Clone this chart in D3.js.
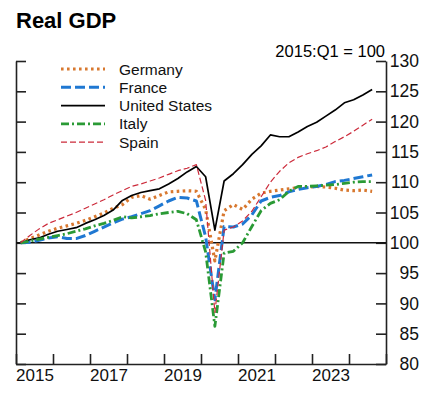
<!DOCTYPE html>
<html>
<head>
<meta charset="utf-8">
<script src="https://cdn.jsdelivr.net/npm/d3@7"></script>
<style>
  body { margin: 0; background: #fff; }
  svg { display: block; font-family: "Liberation Sans", Arial, sans-serif; }
</style>
</head>
<body>
<div id="chart"></div>
<script>
// quarterly index, 2015:Q1 = 100, runs 2015:Q1 .. 2024:Q3
const quarters = d3.range(2015, 2025).flatMap(y => [1, 2, 3, 4].map(q => `${y}:Q${q}`)).slice(0, 39);

const germany = [100, 100.7, 101.3, 101.9, 102.4, 102.8, 103.2, 103.7, 104.3, 104.9,
  105.7, 106.3, 107.5, 107.8, 107.2, 107.8, 108.4, 108.5, 108.6, 108.5,
  105.5, 97, 105.3, 106.3, 105.5, 107.2, 108.2, 108.5, 108.7, 108.9,
  109.1, 109.2, 109.3, 109.2, 109, 108.7, 108.6, 108.7, 108.5];
const france = [100, 100.1, 100.4, 100.8, 101, 100.7, 100.7, 101.2, 101.9, 102.6,
  103.3, 103.9, 104.3, 104.8, 105.3, 106.1, 106.9, 107.5, 107.4, 106.9,
  101, 90.6, 102.7, 102.6, 103.1, 104.6, 106.9, 107.5, 107.8, 108.4,
  108.8, 109.1, 109.3, 109.6, 110.1, 110.3, 110.6, 110.9, 111.2];
const unitedStates = [100, 100.5, 100.8, 101.4, 101.9, 102.2, 102.5, 103.2, 103.8, 104.5,
  105.4, 107, 107.8, 108.3, 108.6, 108.9, 109.7, 110.6, 111.7, 112.6,
  110.9, 102.1, 110.2, 111.4, 112.9, 114.6, 116, 117.8, 117.5, 117.5,
  118.3, 119.2, 119.9, 120.9, 121.9, 123.1, 123.6, 124.4, 125.3];
const italy = [100, 100.3, 100.6, 100.9, 101.2, 101.5, 101.9, 102.3, 102.8, 103.2,
  103.7, 104.3, 104.1, 104.3, 104.5, 104.8, 105, 105.2, 104.8, 103.8,
  98.5, 86.2, 98.3, 98.6, 100, 102.7, 105.3, 106.5, 107.1, 108.5,
  109.3, 109.3, 109.4, 109.5, 109.6, 109.8, 110, 110.1, 110.1];
const spain = [100, 101.2, 102.3, 103.2, 103.8, 104.4, 105, 105.7, 106.4, 107.1,
  107.9, 108.6, 109.3, 109.7, 110.2, 110.7, 111.3, 111.9, 112.3, 112.9,
  107, 88.5, 102.1, 102.6, 103.6, 105.2, 107.6, 110, 111.8, 113.2,
  114.1, 114.7, 115.2, 115.8, 116.7, 117.5, 118.4, 119.4, 120.4];

const yearTicks = d3.range(2015, 2026);
const yearLabels = [2015, 2017, 2019, 2021, 2023];
const yTicks = [80, 85, 90, 95, 100, 105, 110, 115, 120, 125, 130];

const series = [
  { name: "Germany", values: germany, color: "#d8782f", width: 3.2, dash: "2.6 3.4" },
  { name: "France", values: france, color: "#1f78d2", width: 3, dash: "10 4" },
  { name: "United States", values: unitedStates, color: "#000", width: 1.7, dash: null },
  { name: "Italy", values: italy, color: "#2a9a35", width: 2.8, dash: "8 3 2 3" },
  { name: "Spain", values: spain, color: "#cc2a3a", width: 1.2, dash: "6 3" }
];

const W = 431, H = 394;
const plotLeft = 16, plotRight = 386, plotTop = 61, plotBottom = 364;

const svg = d3.select("#chart").append("svg")
  .attr("width", W)
  .attr("height", H);

const x = d3.scaleLinear().domain([2015, 2025]).range([plotLeft, plotRight]);
const y = d3.scaleLinear().domain([80, 130]).range([plotBottom, plotTop]);

// quarter i sits in the middle of its quarter
const qx = i => x(2015 + (i + 0.5) / 4);

// title
svg.append("text")
  .attr("x", 16).attr("y", 28)
  .attr("font-size", 22).attr("font-weight", "bold")
  .text("Real GDP");

svg.append("text")
  .attr("x", 385).attr("y", 57)
  .attr("text-anchor", "end")
  .attr("font-size", 16.5)
  .text("2015:Q1 = 100");

// axes
function styleAxis(g) {
  g.select(".domain").attr("stroke", "#222").attr("stroke-width", 1.6);
  g.selectAll(".tick line").attr("stroke", "#222").attr("stroke-width", 1.6);
}

svg.append("g")
  .attr("transform", `translate(0,${plotBottom})`)
  .call(d3.axisBottom(x).tickValues(yearTicks).tickSizeInner(-10).tickSizeOuter(0).tickFormat(""))
  .call(styleAxis);

svg.append("g")
  .attr("transform", `translate(0,${plotBottom})`)
  .call(d3.axisBottom(x).tickValues(yearLabels.map(d => d + 0.5)).tickSize(0).tickFormat(d => Math.floor(d)))
  .call(g => g.select(".domain").remove())
  .call(g => g.selectAll("text")
    .attr("y", 17).attr("dy", 0)
    .attr("font-size", 17).attr("fill", "#111")
    .attr("font-family", "Liberation Sans, Arial, sans-serif"));

svg.append("g")
  .attr("transform", `translate(${plotLeft},0)`)
  .call(d3.axisLeft(y).tickValues(yTicks).tickSizeInner(-10).tickSizeOuter(0).tickFormat(""))
  .call(styleAxis);

svg.append("g")
  .attr("transform", `translate(${plotRight},0)`)
  .call(d3.axisRight(y).tickValues(yTicks).tickSizeInner(-10).tickSizeOuter(0))
  .call(styleAxis)
  .call(g => g.selectAll("text")
    .attr("x", 33).attr("text-anchor", "end")
    .attr("font-size", 17.5).attr("fill", "#111")
    .attr("font-family", "Liberation Sans, Arial, sans-serif"));

// 100 reference line
svg.append("line")
  .attr("x1", plotLeft).attr("x2", plotRight)
  .attr("y1", y(100)).attr("y2", y(100))
  .attr("stroke", "#111").attr("stroke-width", 1.5);

const line = d3.line()
  .x((d, i) => qx(i))
  .y(d => y(d));

svg.selectAll(".series")
  .data(series)
  .join("path")
  .attr("class", "series")
  .attr("fill", "none")
  .attr("stroke", d => d.color)
  .attr("stroke-width", d => d.width)
  .attr("stroke-dasharray", d => d.dash)
  .attr("stroke-linejoin", "round")
  .attr("d", d => line(d.values));

// legend
const legend = svg.selectAll(".legend")
  .data(series)
  .join("g")
  .attr("class", "legend")
  .attr("transform", (d, i) => `translate(61,${69 + i * 18.3})`);

legend.append("line")
  .attr("x1", 0).attr("x2", 44)
  .attr("stroke", d => d.color)
  .attr("stroke-width", d => d.width)
  .attr("stroke-dasharray", d => d.dash);

legend.append("text")
  .attr("x", 58).attr("y", 5.5)
  .attr("font-size", 15.5)
  .attr("fill", "#111")
  .text(d => d.name);
</script>
</body>
</html>
